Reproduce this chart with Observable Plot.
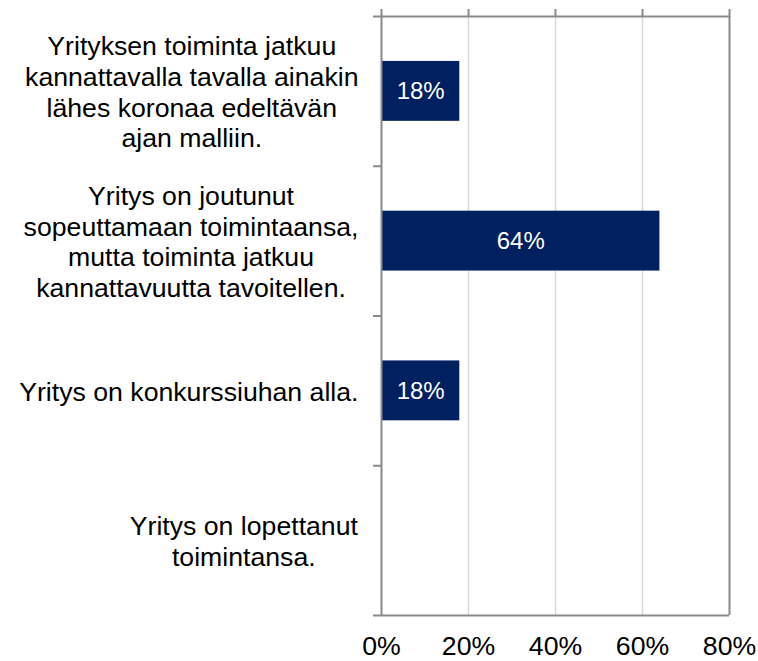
<!DOCTYPE html>
<html>
<head>
<meta charset="utf-8">
<script src="https://cdn.jsdelivr.net/npm/d3@7"></script>
<script src="https://cdn.jsdelivr.net/npm/@observablehq/plot@0.6"></script>
<style>
  html, body { margin: 0; padding: 0; background: #fff; }
  svg { font-family: "Liberation Sans", Arial, sans-serif; }
</style>
</head>
<body>
<script>
const categories = [
  "Yrityksen toiminta jatkuu\nkannattavalla tavalla ainakin\nlähes koronaa edeltävän\najan malliin.",
  "Yritys on joutunut\nsopeuttamaan toimintaansa,\nmutta toiminta jatkuu\nkannattavuutta tavoitellen.",
  "Yritys on konkurssiuhan alla.",
  "Yritys on lopettanut\ntoimintansa."
];
const values = [0.18, 0.64, 0.18, 0];
const xTicks = [0, 0.2, 0.4, 0.6, 0.8];
const yBoundaries = [0, 1, 2, 3, 4];

const data = categories.map((c, i) => ({label: c, value: values[i], i}));
const pct = d3.format(".0%");
const axisGray = "#8a8a8a";

const chart = Plot.plot({
  width: 758,
  height: 661,
  marginLeft: 381,
  marginRight: 29,
  marginTop: 16,
  marginBottom: 46,
  x: {domain: [0, 0.8]},
  y: {domain: [0, 4], reverse: true},
  style: {fontFamily: "'Liberation Sans', Arial, sans-serif", background: "#fff"},
  marks: [
    Plot.ruleX(xTicks.slice(1, -1), {stroke: "#d9d9d9", strokeWidth: 1.5}),
    Plot.rect(data.filter(d => d.value > 0), {
      x1: 0, x2: "value",
      y1: d => d.i + 0.3, y2: d => d.i + 0.7,
      fill: "#002060"
    }),
    Plot.text(data.filter(d => d.value > 0), {
      x: d => d.value / 2, y: d => d.i + 0.5,
      text: d => pct(d.value), fill: "white", fontSize: 24
    }),
    Plot.ruleX([0, 0.8], {stroke: axisGray, strokeWidth: 2}),
    Plot.ruleY([0, 4], {stroke: axisGray, strokeWidth: 2}),
    Plot.axisX(xTicks, {anchor: "top", tickSize: 8, tickFormat: () => "", label: null, stroke: axisGray, strokeWidth: 2}),
    Plot.axisY(yBoundaries, {anchor: "left", tickSize: 8, tickFormat: () => "", label: null, stroke: axisGray, strokeWidth: 2}),
    Plot.axisX(xTicks, {anchor: "bottom", tickSize: 0, tickPadding: 21, tickFormat: pct, label: null, fontSize: 26.67, fill: "black"}),
    Plot.text(data, {
      x: 0, y: d => d.i + 0.5, text: "label",
      textAnchor: "middle", fontSize: 26.67, lineHeight: 1.15, fill: "black"
    })
  ]
});
document.body.append(chart);

// Excel-like label block: right-aligned block, lines centered within it
const textGroups = chart.querySelectorAll('g[aria-label="text"]');
const labelGroup = textGroups[textGroups.length - 1];
labelGroup.querySelectorAll("text").forEach(t => {
  const b = t.getBBox();
  const gap = 23;
  const delta = -gap - b.width / 2 - (b.x + b.width / 2);
  const tr = t.getAttribute("transform") || "";
  t.setAttribute("transform", (tr + ` translate(${delta},0)`).trim());
});
</script>
</body>
</html>
